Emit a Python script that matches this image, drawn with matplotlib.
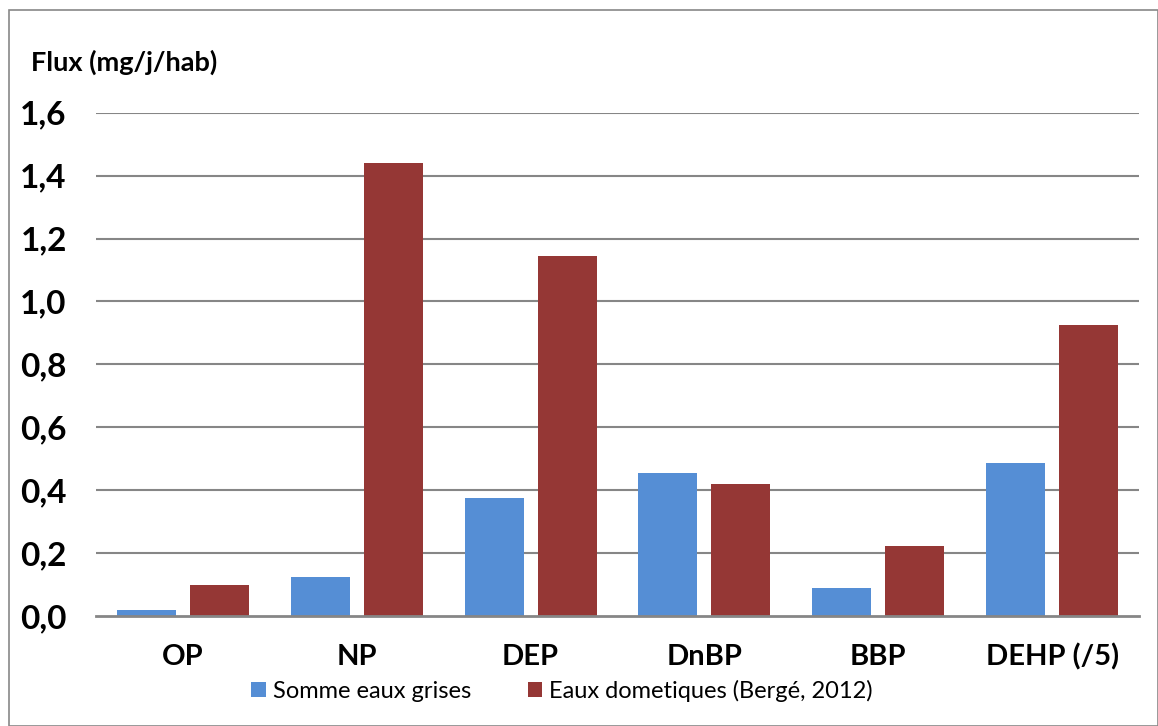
import numpy as np
from matplotlib import pyplot as plt
from matplotlib.patches import Rectangle

# Data
categories = ["OP", "NP", "DEP", "DnBP", "BBP", "DEHP (/5)"]
grises = [0.02, 0.123, 0.375, 0.455, 0.088, 0.486]
domestiques = [0.10, 1.44, 1.144, 0.42, 0.222, 0.925]
yticks = [0.0, 0.2, 0.4, 0.6, 0.8, 1.0, 1.2, 1.4, 1.6]
ytick_labels = ["0,0", "0,2", "0,4", "0,6", "0,8", "1,0", "1,2", "1,4", "1,6"]

blue = "#558ED5"
red = "#953735"
grid_c = "#868686"

plt.rcParams['font.family'] = ['Lato', 'DejaVu Sans']

fig = plt.figure(figsize=(11.58, 7.26), dpi=100)
# thin grey frame around the whole chart
fig.patches.append(Rectangle((9 / 1158, 0), 1 - 9 / 1158, 1 - 10 / 726, transform=fig.transFigure,
                             fill=False, edgecolor="#888888", linewidth=1.2))

ax = fig.add_axes([96 / 1158, 1 - 616 / 726, (1139 - 96) / 1158, (616 - 112.7) / 726])

x = np.arange(len(categories))
w = 0.34
off = 0.21
ax.bar(x - off, grises, w, color=blue, label="Somme eaux grises", zorder=3)
ax.bar(x + off, domestiques, w, color=red, label="Eaux dometiques (Bergé, 2012)", zorder=3)

ax.set_xlim(-0.5, len(categories) - 0.5)
ax.set_ylim(0, 1.6)
ax.set_yticks(yticks)
ax.set_yticklabels(ytick_labels, fontsize=24, fontweight="bold")
ax.set_xticks(x)
ax.set_xticklabels(categories, fontsize=21, fontweight="bold")
ax.tick_params(axis="both", length=0)
ax.tick_params(axis="y", pad=21)
ax.tick_params(axis="x", pad=20)

for yv in yticks[1:]:
    ax.axhline(yv, color=grid_c, linewidth=1.5, zorder=1)

for s in ["top", "right", "left"]:
    ax.spines[s].set_visible(False)
ax.spines["bottom"].set_color(grid_c)
ax.spines["bottom"].set_linewidth(2)
ax.spines["bottom"].set_zorder(4)

fig.text(31 / 1158, 1 - 62 / 726, "Flux (mg/j/hab)", fontsize=19.5, fontweight="bold",
         va="center", ha="left")

fig.legend(loc="center", bbox_to_anchor=(562 / 1158, 1 - 691 / 726), ncol=2, frameon=False,
           fontsize=17, handlelength=0.6, handleheight=0.6, handletextpad=0.3, columnspacing=2.4)

fig.savefig("out.png", dpi=100)
